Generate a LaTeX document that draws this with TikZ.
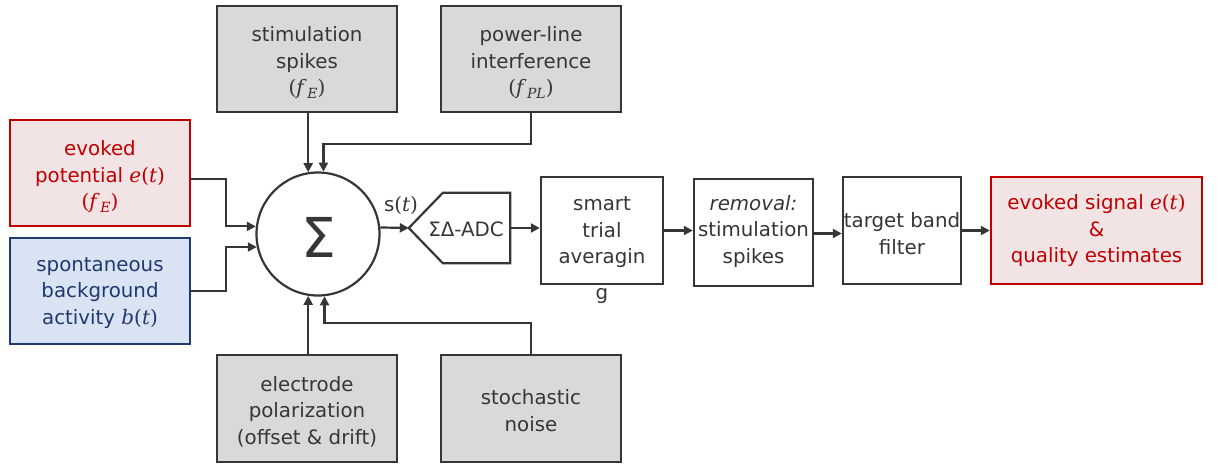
\documentclass[tikz,border=0pt]{standalone}
\usepackage{fontspec}
\setmainfont{DejaVu Sans}
\newfontfamily\vfont{DejaVu Serif}
\usetikzlibrary{arrows.meta,calc}

% variables set in a serif italic, brackets upright
\newcommand{\sigt}[1]{{\vfont\fontsize{20}{26.5}\selectfont\textit{#1}(\textit{t\/})}}
\newcommand{\freq}[1]{{\vfont\fontsize{20}{26.5}\selectfont\rule{0pt}{20pt}(\textit{f}\kern0.5pt\raisebox{-0.3ex}{\fontsize{14}{14}\selectfont\textit{#1}})}}

\definecolor{ink}{HTML}{363636}
\definecolor{srcgray}{HTML}{D9D9D9}
\definecolor{evred}{HTML}{C00000}
\definecolor{evpink}{HTML}{F2E4E5}
\definecolor{bgblue}{HTML}{1F3A6E}
\definecolor{bgfill}{HTML}{DAE3F3}

\tikzset{
  blk/.style={draw=ink, line width=2.4pt, fill=white, inner sep=0pt, minimum height=107pt},
  srcbox/.style={blk, fill=srcgray, minimum width=180pt},
  redbox/.style={blk, draw=evred, fill=evpink},
  bluebox/.style={blk, draw=bgblue, fill=bgfill},
  txt/.style={align=center, inner sep=0pt, text=ink},
  wire/.style={draw=ink, line width=2.2pt},
  arr/.style={wire, -{Triangle[length=9pt,width=9pt]}},
}

\begin{document}
\begin{tikzpicture}[x=1pt, y=-1pt, font=\fontsize{19.8}{26.5}\selectfont]
\useasboundingbox (0,0) rectangle (1218,464);

% summing junction
\node[circle, draw=ink, line width=2.2pt, minimum size=123pt, inner sep=0pt] (sum) at (318,234) {};
\node[text=ink, font=\fontsize{55}{55}\selectfont] (sigma) at (319,237) {Σ};

% signal sources
\node[redbox, minimum width=180pt, minimum height=106pt] (ep) at (100,173) {};
\node[txt, text=evred] (ept) at ($(ep.center)+(0,4)$) {evoked\\potential \sigt{e}\\\freq{E}};
\node[bluebox, minimum width=180pt, minimum height=106pt] (sp) at (100,291) {};
\node[txt, text=bgblue] (spt) at ($(sp.center)+(0,2)$) {spontaneous\\background\\activity \sigt{b}};
\node[srcbox, minimum height=106pt] (ss) at (307,59) {};
\node[txt] (sst) at ($(ss.center)+(0,4)$) {stimulation\\spikes\\\freq{E}};
\node[srcbox, minimum height=106pt] (pl) at (531,59) {};
\node[txt] (plt) at ($(pl.center)+(0,4)$) {power-line\\interference\\\freq{PL}};
\node[srcbox] (el) at (307,408.5) {};
\node[txt] (elt) at ($(el.center)+(0,3)$) {electrode\\polarization\\(offset \& drift)};
\node[srcbox] (sn) at (531,408.5) {};
\node[txt] (snt) at ($(sn.center)+(0,2)$) {stochastic\\noise};

% converter
\node[inner sep=0pt, minimum width=101pt, minimum height=70pt] (adc) at (459.5,228) {};
\node[txt] (adct) at (466,229) {ΣΔ-ADC};
\draw[wire, line join=miter] (adc.west) -- ($(adc.north west)+(34,0)$) -- (adc.north east)
  -- (adc.south east) -- ($(adc.south west)+(34,0)$) -- cycle;
\node[text=ink, inner sep=0pt, anchor=base] (sig) at (401,211) {s{\vfont\fontsize{20}{26}\selectfont(\textit{t\/})}};

% processing chain
\node[blk, minimum width=122pt] (sta) at (602,230.5) {};
\node[txt] (stat) at ($(sta.center)+(0,2)$) {smart\\trial\\averagin};
\node[txt, anchor=north] (stag) at ($(sta.south)+(0,3)$) {g};
\node[blk, minimum width=119pt] (rem) at (753.5,232.5) {};
\node[txt] (remt) at ($(rem.center)+(0,-1)$) {\textit{removal:}\\stimulation\\spikes};
\node[blk, minimum width=118pt] (tbf) at (902,230.5) {};
\node[txt] (tbft) at ($(tbf.center)+(0,3)$) {target band\\filter};
\node[redbox, minimum width=211pt] (out) at (1096.5,230.5) {};
\node[txt, text=evred] (outt) at ($(out.center)+(0,0)$) {evoked signal \sigt{e}\\\&\\quality estimates};

% inputs to the junction
\draw[arr] ($(ep.east)+(0,6)$) -- (226,179) |- (sum.173);
\draw[arr] (sp.east) -- (226,291) |- (sum.192);
\draw[arr] (ss.south -| sum.99) -- (sum.99);
\draw[arr] (pl.south) |- ($(sum.85)+(0,-28)$) -- (sum.85);
\draw[arr] (el.north -| sum.261) -- (sum.261);
\draw[arr] (sn.north) |- ($(sum.276)+(0,27)$) -- (sum.276);

% forward path
\draw[arr] (sum.6) -- (adc.west);
\draw[arr] (adc.east) -- (sta.west |- adc.east);
\draw[arr] (sta.east) -- (rem.west |- sta.east);
\draw[arr] ($(rem.east)+(0,1)$) -- (tbf.west |- 0,233.5);
\draw[arr] (tbf.east) -- (out.west |- tbf.east);
\end{tikzpicture}
\end{document}
